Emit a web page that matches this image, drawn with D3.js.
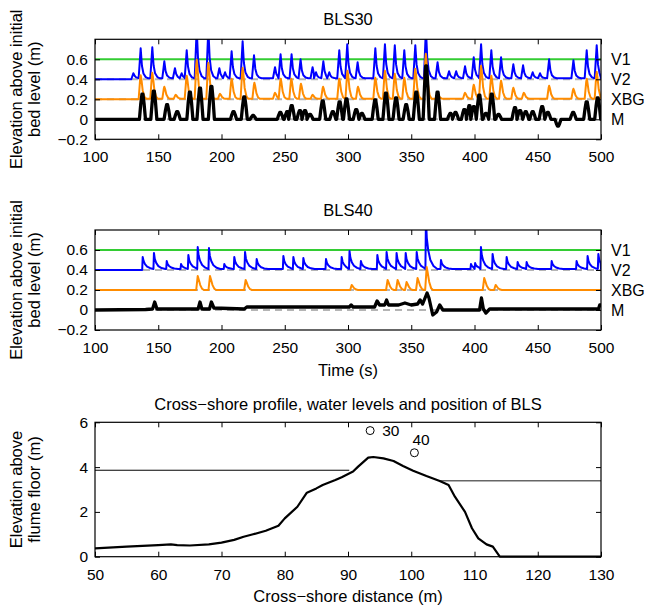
<!DOCTYPE html>
<html><head><meta charset="utf-8">
<script src="https://cdn.jsdelivr.net/npm/d3@7"></script>
<style>
body{margin:0;background:#fff}
svg{display:block}
text{font-family:"Liberation Sans",Arial,sans-serif;fill:#000}
</style>
</head><body>
<svg id="chart" width="650" height="609"></svg>
<script>
// ---------------- DATA ----------------
const timeTicks = [100,150,200,250,300,350,400,450,500];
const elevTicks = [-0.2,0,0.2,0.4,0.6];
const seriesNames = ["V1","V2","XBG","M"];
const seriesOffsets = [0.6,0.4,0.2,0];

// BLS30 : peak events [time (s), height above offset (m)]
const v1Series30 = [[100,0],[500,0]];
const v2Peaks30 = [[130.3,0.06],[136.1,0.30],[145.3,0.31],[154.8,0.17],[163.2,0.10],[168.5,0.05],[172.5,0.28],[180.4,0.50],[189.6,0.50],[198.3,0.10],[202.8,0.06],[208.0,0.27],[216.7,0.37],[225.7,0.23],[242.3,0.11],[246.7,0.24],[255.4,0.24],[262.5,0.19],[272.0,0.11],[274.7,0.06],[280.5,0.17],[285.2,0.06],[293.1,0.28],[299.4,0.34],[307.6,0.16],[321.6,0.30],[329.2,0.34],[337.0,0.33],[344.5,0.28],[353.2,0.33],[361.6,0.50],[370.8,0.16],[379.9,0.07],[385.5,0.07],[392.5,0.12],[399.4,0.21],[405.2,0.34],[413.3,0.28],[421.0,0.21],[430.7,0.14],[438.4,0.13],[446.0,0.06],[451.8,0.05],[459.0,0.19],[478.2,0.18],[488.7,0.28],[496.6,0.33]];
const xbgPeaks30 = [[136.1,0.24],[145.3,0.26],[154.8,0.12],[163.8,0.04],[172.5,0.23],[180.4,0.39],[189.6,0.36],[198.8,0.05],[208.0,0.20],[216.7,0.31],[226.0,0.16],[242.3,0.06],[246.8,0.20],[255.2,0.20],[262.8,0.15],[272.0,0.04],[280.3,0.12],[293.1,0.20],[299.6,0.28],[307.9,0.12],[321.6,0.21],[329.2,0.28],[337.0,0.25],[344.5,0.21],[353.2,0.30],[361.5,0.45],[370.8,0.05],[392.5,0.06],[399.4,0.14],[405.2,0.33],[413.3,0.23],[421.0,0.18],[430.7,0.11],[439.0,0.06],[459.0,0.13],[478.2,0.10],[488.7,0.20],[496.6,0.27]];
const mPeaks30 = [[137.5,0.26],[146.5,0.29],[157.0,0.15],[165.0,0.08],[175.0,0.28],[183.0,0.32],[192.0,0.34],[209.5,0.08],[218.0,0.23],[225.0,0.04],[246.5,0.07],[252.0,0.08],[255.5,0.14],[262.0,0.09],[266.0,0.09],[270.0,0.05],[280.0,0.19],[288.0,0.08],[293.4,0.18],[298.8,0.21],[306.5,0.10],[311.0,0.06],[321.5,0.20],[330.0,0.27],[338.0,0.22],[346.0,0.15],[354.0,0.28],[361.8,0.55],[370.8,0.28],[381.0,0.06],[385.0,0.07],[392.0,0.10],[396.0,0.14],[399.5,0.13],[403.8,0.25],[409.0,0.06],[413.6,0.26],[419.0,0.05],[432.0,0.12],[436.0,0.09],[440.5,0.08],[446.0,0.08],[453.5,0.13],[458.0,0.07],[466.0,-0.07],[478.0,0.07],[488.7,0.18],[497.4,0.22]];

// BLS40
const v1Series40 = [[100,0],[500,0]];
const v2Peaks40 = [[137.7,0.13],[146.6,0.16],[156.7,0.08],[168.0,0.05],[173.8,0.14],[181.2,0.22],[190.1,0.21],[202.2,0.05],[210.1,0.12],[218.6,0.17],[227.8,0.10],[248.9,0.13],[256.8,0.12],[264.7,0.11],[282.6,0.10],[295.0,0.12],[301.2,0.18],[310.2,0.08],[323.2,0.14],[330.5,0.17],[338.4,0.16],[345.6,0.16],[354.3,0.17],[361.6,0.50],[373.5,0.09],[397.2,0.05],[400.5,0.06],[405.1,0.22],[414.3,0.15],[425.4,0.12],[434.1,0.07],[441.2,0.07],[461.0,0.08],[480.7,0.08],[489.4,0.13],[497.9,0.15]];
const xbgPeaks40 = [[181.2,0.14],[190.9,0.14],[219.1,0.10],[302.9,0.05],[331.3,0.10],[339.2,0.10],[346.3,0.08],[355.0,0.12],[362.2,0.23],[407.7,0.12],[416.7,0.05]];
const mSeries40 = [[100,0],[140,0.005],[145.5,0.01],[147.2,0.08],[149,0.01],[181.5,0.01],[183,0.08],[184.5,0.01],[190.5,0.01],[192,0.08],[194,0.02],[218,0.01],[220,0.03],[301,0.03],[302.5,0.05],[304,0.03],[321,0.03],[323,0.09],[325,0.05],[329,0.05],[330.5,0.10],[332,0.05],[340,0.05],[345,0.07],[350,0.05],[355,0.06],[357,0.10],[359,0.06],[362.5,0.17],[364,0.12],[367,-0.05],[370,-0.02],[372.5,0.05],[375,0.0],[404,0.0],[405.5,0.12],[407,0.01],[409,-0.03],[412,0.01],[498,0.01],[499,0.05],[500,0.05]];

// Cross-shore profile
const profileX = [50,55,60,62,63,65,68,70,72,73.5,75,77,79,80,82,83.5,85,86,88,89,90.8,91.6,93.2,94.0,95.6,97.2,98.7,100.3,102.4,104.5,105.9,106.9,108.5,109.6,110.6,111.9,112.9,114.0,116,130];
const profileZ = [0.37,0.45,0.52,0.55,0.52,0.50,0.55,0.63,0.75,0.89,1.00,1.16,1.38,1.71,2.23,2.86,3.05,3.20,3.42,3.55,3.80,4.02,4.42,4.45,4.39,4.27,4.05,3.84,3.60,3.38,3.20,2.68,2.00,1.27,0.82,0.55,0.45,0.00,0,0];
const waterLevels = [{x0:50, x1:90.2, z:3.86, color:"#000"}, {x0:104.5, x1:130, z:3.39, color:"#666"}];
const blsNames = ["30","40"];
const blsX = [93.5,100.5];
const blsZ = [5.63,4.64];
const distTicks = [50,60,70,80,90,100,110,120,130];
const floorTicks = [0,2,4,6];

// ---------------- STYLE ----------------
const FONT = 15.5;      // tick labels
const LFONT = 16.5;     // titles / axis labels
const colors = {V1:"#33cc33", V2:"#0000ff", XBG:"#ff8c00", M:"#000000"};
const glyphs = {
  v2_30:[[-1.6,0],[0,1],[1.0,0.42],[2.2,0.16],[4,0.04],[6,0]],
  xbg_30:[[-1.6,0],[-0.4,0.85],[0,1],[0.5,0.85],[1.6,0.35],[3,0.08],[4.5,0]],
  m_30:[[-2.4,0],[-1.3,0.6],[-0.4,0.97],[0.4,0.97],[1.3,0.6],[2.4,0]],
  v2_40:[[-0.4,0],[0,1],[0.7,0.62],[1.8,0.38],[3.5,0.18],[6,0.06],[9,0]],
  xbg_40:[[-1.2,0],[0,1],[0.8,0.75],[2,0.35],[3.5,0.08],[5,0]]
};

function buildSpikes(peaks, glyph, residual){
  const pts = [[100,0]];
  peaks.forEach((p,i)=>{
    const next = peaks[i+1];
    const limit = next ? next[0]+glyph[0][0] : 500;
    glyph.forEach(([dt,f])=>{
      const t = p[0]+dt;
      if (t >= limit) return;
      if (t <= pts[pts.length-1][0]) return;
      const res = (i>0 || dt>0) ? residual : 0;
      pts.push([t, res + f*p[1]]);
    });
  });
  pts.push([500, residual]);
  return pts;
}

const svg = d3.select("#chart");
const xT = d3.scaleLinear().domain([100,500]).range([95,601]);

const panels = [
  {title:"BLS30", top:39.3, bottom:139.3, xlabel:null,
   series:[
     {name:"V1", pts:v1Series30, w:2},
     {name:"V2", pts:buildSpikes(v2Peaks30, glyphs.v2_30, 0.01), w:2},
     {name:"XBG", pts:buildSpikes(xbgPeaks30, glyphs.xbg_30, 0.005), w:2},
     {name:"M", pts:buildSpikes(mPeaks30, glyphs.m_30, 0), w:3.3}
   ]},
  {title:"BLS40", top:230, bottom:330, xlabel:"Time (s)",
   series:[
     {name:"V1", pts:v1Series40, w:2},
     {name:"V2", pts:buildSpikes(v2Peaks40, glyphs.v2_40, 0.01), w:2},
     {name:"XBG", pts:buildSpikes(xbgPeaks40, glyphs.xbg_40, 0), w:2},
     {name:"M", pts:mSeries40, w:3.3}
   ]}
];

function frameAxes(g, x, y, xticks, yticks, yfmt){
  const [x0,x1] = x.range(), [y1,y0] = y.range();
  const ax = g.append("g").attr("transform",`translate(0,${y1})`)
    .call(d3.axisBottom(x).tickValues(xticks).tickSize(-5).tickPadding(12).tickFormat(d3.format("d")));
  ax.select(".domain").remove();
  ax.selectAll("text").attr("font-size",FONT).attr("font-family","Liberation Sans, Arial, sans-serif");
  const at = g.append("g").attr("transform",`translate(0,${y0})`)
    .call(d3.axisTop(x).tickValues(xticks).tickSize(-5).tickFormat(""));
  at.select(".domain").remove();
  const ay = g.append("g").attr("transform",`translate(${x0},0)`)
    .call(d3.axisLeft(y).tickValues(yticks).tickSize(-5).tickPadding(7).tickFormat(yfmt));
  ay.select(".domain").remove();
  ay.selectAll("text").attr("font-size",FONT).attr("font-family","Liberation Sans, Arial, sans-serif");
  const ar = g.append("g").attr("transform",`translate(${x1},0)`)
    .call(d3.axisRight(y).tickValues(yticks).tickSize(-5).tickFormat(""));
  ar.select(".domain").remove();
  g.selectAll(".tick line").attr("stroke","#000");
  g.append("rect").attr("x",x0).attr("y",y0).attr("width",x1-x0).attr("height",y1-y0)
    .attr("fill","none").attr("stroke","#000").attr("stroke-width",1.2);
}

const fmtElev = d => d===0 ? "0" : (d<0 ? "\u2212"+Math.abs(d).toFixed(1) : d.toFixed(1));

panels.forEach((p,pi)=>{
  const y = d3.scaleLinear().domain([-0.2,0.8]).range([p.bottom,p.top]);
  const g = svg.append("g");
  const clipId = "clip"+pi;
  svg.append("clipPath").attr("id",clipId).append("rect")
    .attr("x",95).attr("y",p.top).attr("width",506).attr("height",p.bottom-p.top);
  const plot = g.append("g").attr("clip-path",`url(#${clipId})`);
  // grey dashed reference baselines
  seriesOffsets.slice(1).forEach(o=>{
    plot.append("line").attr("x1",xT(100)).attr("x2",xT(500)).attr("y1",y(o)).attr("y2",y(o))
      .attr("stroke","#b4b4b4").attr("stroke-width",2).attr("stroke-dasharray","7,5");
  });
  p.series.forEach((s,si)=>{
    const off = seriesOffsets[seriesNames.indexOf(s.name)];
    const line = d3.line().x(d=>xT(d[0])).y(d=>y(d[1]+off));
    plot.append("path").attr("d",line(s.pts)).attr("fill","none")
      .attr("stroke",colors[s.name]).attr("stroke-width",s.w)
      .attr("stroke-linejoin","round").attr("stroke-linecap","round");
  });
  frameAxes(g, xT, y, timeTicks, elevTicks, fmtElev);
  // right labels
  seriesNames.forEach((n,i)=>{
    g.append("text").attr("x",611).attr("y",y(seriesOffsets[i])).attr("dy","0.36em")
      .attr("font-size",16).text(n);
  });
  g.append("text").attr("x",348).attr("y",p.top-14).attr("text-anchor","middle")
    .attr("font-size",LFONT).text(p.title);
  const cy = (p.top+p.bottom)/2;
  g.append("text").attr("transform",`translate(22,${cy}) rotate(-90)`).attr("text-anchor","middle")
    .attr("font-size",LFONT).text("Elevation above initial");
  g.append("text").attr("transform",`translate(40,${cy}) rotate(-90)`).attr("text-anchor","middle")
    .attr("font-size",LFONT).text("bed level (m)");
  if (p.xlabel) g.append("text").attr("x",348).attr("y",p.bottom+46).attr("text-anchor","middle")
    .attr("font-size",LFONT).text(p.xlabel);
});

// ---------------- Cross-shore panel ----------------
const xD = d3.scaleLinear().domain([50,130]).range([95,601]);
const yZ = d3.scaleLinear().domain([0,6]).range([556.7,422.3]);
const g3 = svg.append("g");
waterLevels.forEach(w=>{
  g3.append("line").attr("x1",xD(w.x0)).attr("x2",xD(w.x1)).attr("y1",yZ(w.z)).attr("y2",yZ(w.z))
    .attr("stroke",w.color).attr("stroke-width",w.color==="#000"?1:1.5);
});
const profPts = profileX.map((x,i)=>[x,profileZ[i]]);
g3.append("path").attr("d",d3.line().x(d=>xD(d[0])).y(d=>yZ(d[1]))(profPts))
  .attr("fill","none").attr("stroke","#000").attr("stroke-width",2.2).attr("stroke-linejoin","round");
blsNames.forEach((n,i)=>{
  g3.append("circle").attr("cx",xD(blsX[i])).attr("cy",yZ(blsZ[i])).attr("r",4)
    .attr("fill","none").attr("stroke","#000").attr("stroke-width",1);
});
g3.append("text").attr("x",xD(blsX[0])+12).attr("y",yZ(blsZ[0])).attr("dy","0.36em")
  .attr("font-size",FONT).text(blsNames[0]);
g3.append("text").attr("x",xD(blsX[1])-2).attr("y",yZ(blsZ[1])-13).attr("dy","0.36em")
  .attr("font-size",FONT).text(blsNames[1]);
frameAxes(g3, xD, yZ, distTicks, floorTicks, d3.format("d"));
g3.append("text").attr("x",348).attr("y",410).attr("text-anchor","middle")
  .attr("font-size",LFONT).text("Cross\u2212shore profile, water levels and position of BLS");
g3.append("text").attr("x",348).attr("y",602).attr("text-anchor","middle")
  .attr("font-size",LFONT).text("Cross\u2212shore distance (m)");
g3.append("text").attr("transform",`translate(22,489.5) rotate(-90)`).attr("text-anchor","middle")
  .attr("font-size",LFONT).text("Elevation above");
g3.append("text").attr("transform",`translate(40,489.5) rotate(-90)`).attr("text-anchor","middle")
  .attr("font-size",LFONT).text("flume floor (m)");
</script>
</body></html>
